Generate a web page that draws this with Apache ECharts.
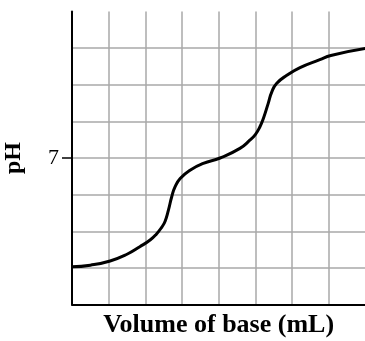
<!DOCTYPE html>
<html>
<head>
<meta charset="utf-8">
<script src="https://cdn.jsdelivr.net/npm/echarts@6/dist/echarts.min.js"></script>
<style>
html,body{margin:0;padding:0;background:#fff;}
#chart{width:365px;height:341px;}
</style>
</head>
<body>
<div id="chart"></div>
<script>
const volume = [0, 0.5, 1.04, 1.5, 1.85, 2.13, 2.30, 2.45, 2.54, 2.63, 2.72, 2.81, 2.95, 3.22, 3.58, 4.04, 4.58, 4.85, 5.00, 5.12, 5.22, 5.35, 5.45, 5.58, 5.86, 6.22, 6.76, 7.06, 8.0];
const ph = [1.80, 1.88, 2.08, 2.40, 2.76, 3.08, 3.36, 3.70, 3.98, 4.51, 5.15, 5.62, 6.02, 6.42, 6.74, 7.00, 7.46, 7.85, 8.12, 8.47, 8.89, 9.60, 10.16, 10.56, 10.95, 11.32, 11.70, 11.90, 12.23];
const yTickValues = [7];
const xTitle = 'Volume of base (mL)';
const yTitle = 'pH';

const chart = echarts.init(document.getElementById('chart'), null, {renderer: 'canvas'});
chart.setOption({
  animation: false,
  backgroundColor: '#ffffff',
  grid: {left: 72, top: 11.5, width: 293.3, height: 293, containLabel: false, outerBoundsMode: 'none'},
  xAxis: {
    type: 'value', min: 0, max: 8, interval: 1,
    name: xTitle, nameLocation: 'middle', nameGap: 8,
    nameTextStyle: {fontFamily: 'Liberation Serif', fontWeight: 'bold', fontSize: 26, color: '#000', verticalAlign: 'top'},
    axisLine: {show: true, onZero: false, lineStyle: {color: '#000', width: 2}},
    axisTick: {show: false},
    axisLabel: {show: false},
    splitLine: {show: true, showMinLine: false, showMaxLine: false, lineStyle: {color: '#a8a8a8', width: 1.5}}
  },
  yAxis: [{
    type: 'value', min: 0, max: 14, interval: 1.75,
    name: yTitle, nameLocation: 'middle', nameGap: 46, nameRotate: 90,
    nameTextStyle: {fontFamily: 'Liberation Serif', fontWeight: 'bold', fontSize: 24, color: '#000'},
    axisLine: {show: true, onZero: false, lineStyle: {color: '#000', width: 2}},
    axisTick: {show: false},
    axisLabel: {show: false},
    splitLine: {show: true, showMinLine: false, showMaxLine: false, lineStyle: {color: '#a8a8a8', width: 1.5}}
  }, {
    type: 'value', min: 0, max: 14, position: 'left', offset: 0,
    axisLine: {show: false},
    axisTick: {show: true, customValues: yTickValues, length: 10, lineStyle: {color: '#000', width: 1.5}},
    axisLabel: {show: true, customValues: yTickValues, margin: 13, fontFamily: 'Liberation Serif', fontSize: 22, color: '#000', formatter: v => String(v)},
    splitLine: {show: false}
  }],
  series: [{
    type: 'line',
    yAxisIndex: 0,
    data: volume.map((v, i) => [v, ph[i]]),
    smooth: 0.5,
    symbol: 'none',
    lineStyle: {color: '#000', width: 3},
    clip: false
  }]
});
</script>
</body>
</html>
